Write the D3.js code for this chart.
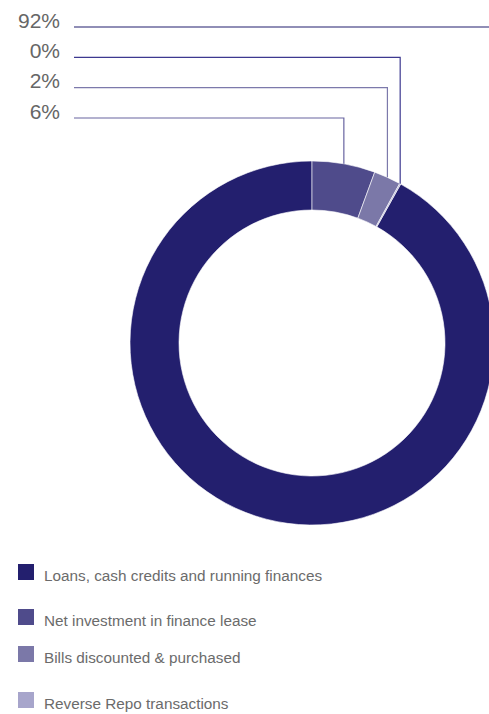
<!DOCTYPE html>
<html>
<head>
<meta charset="utf-8">
<script src="https://cdn.jsdelivr.net/npm/d3@7"></script>
<style>
  html, body { margin: 0; padding: 0; background: #fff; }
  svg { display: block; font-family: "Liberation Sans", Arial, sans-serif; }
</style>
</head>
<body>
<svg id="chart" width="489" height="714"></svg>
<script>
// Advances composition (share of total, %)
const categories = [
  "Loans, cash credits and running finances",
  "Net investment in finance lease",
  "Bills discounted & purchased",
  "Reverse Repo transactions"
];
const shares = [91.9, 5.6, 2.4, 0.1];
const colors = ["#231f6e", "#4f4b8b", "#7b78a8", "#a7a5cb"];
const lineColors = ["#231f6e", "#6864a0", "#7c79ab", "#3d3990"];

const svg = d3.select("#chart");
const W = 489;
const cx = 312, cy = 343;
const rOuter = 182, rInner = 133;

const total = d3.sum(shares);
const pct = d3.format(".0%");

// Start angle chosen so that the first (largest) slice ends at 12 o'clock
const start = 2 * Math.PI * (total - shares[0]) / total;
const pie = d3.pie().sort(null).value(d => d.value)
  .startAngle(start).endAngle(start + 2 * Math.PI);

const data = categories.map((c, i) => ({ name: c, value: shares[i], color: colors[i], line: lineColors[i], i }));
const arcs = pie(data);

const arc = d3.arc().innerRadius(rInner).outerRadius(rOuter);

const g = svg.append("g").attr("transform", `translate(${cx},${cy})`);
g.selectAll("path.slice")
  .data(arcs)
  .join("path")
  .attr("class", "slice")
  .attr("d", arc)
  .attr("fill", d => d.data.color)
  .attr("stroke", "#fff")
  .attr("stroke-width", 0.6);

// Callout labels stacked at top-left, in reverse category order below the main one
const labelY = d3.scalePoint()
  .domain([0, 3, 2, 1])
  .range([27, 118]);
const labelRight = 60, lineStart = 74;

arcs.forEach(a => {
  const y = labelY(a.data.i);
  svg.append("text")
    .attr("x", labelRight)
    .attr("y", y + 0.7)
    .attr("text-anchor", "end")
    .attr("font-size", 21)
    .attr("fill", "#666")
    .text(pct(a.data.value / total));

  let pts;
  if (a.data.i === 0) {
    pts = [[lineStart, y], [W + 10, y]];
  } else {
    const mid = (a.startAngle + a.endAngle) / 2;
    const px = cx + rOuter * Math.sin(mid);
    const py = cy - rOuter * Math.cos(mid);
    pts = [[lineStart, y], [px, y], [px, py]];
  }
  svg.append("path")
    .attr("d", d3.line()(pts))
    .attr("fill", "none")
    .attr("stroke", a.data.line)
    .attr("stroke-width", 1.2);
});

// Legend
const legendY = [564, 609, 646, 692];
const legend = svg.append("g");
data.forEach((d, i) => {
  legend.append("rect")
    .attr("x", 18).attr("y", legendY[i])
    .attr("width", 16).attr("height", 16)
    .attr("fill", d.color);
  legend.append("text")
    .attr("x", 44).attr("y", legendY[i] + 16.5)
    .attr("font-size", 15.3)
    .attr("fill", "#6b6b6b")
    .text(d.name);
});
</script>
</body>
</html>
